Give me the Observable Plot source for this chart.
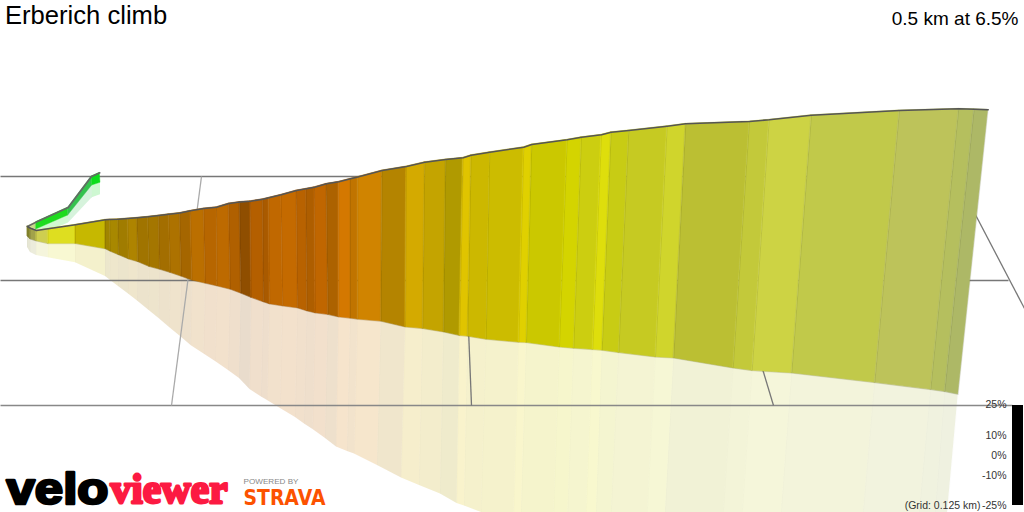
<!DOCTYPE html>
<html>
<head>
<meta charset="utf-8">
<script src="https://cdn.jsdelivr.net/npm/d3@7"></script>
<script src="https://cdn.jsdelivr.net/npm/@observablehq/plot@0.6"></script>
<style>html,body{margin:0;padding:0;background:#fff}svg{display:block}</style>
</head>
<body>
<div id="chart"></div>
<script>
// Wall profile: one entry per strip boundary
const topX = [27,30,36,47.7,75,105,109.3,117.7,127.3,136.7,147.3,158.3,168.3,179.3,190,203.3,216,228.3,239.3,250,262.3,268.3,280.7,296,305.7,314,326,338.3,350,357.3,381.7,406,424.3,445.3,462.7,470.7,489.3,523.3,531.3,566.7,581,601,610.7,628.3,666.7,685.3,749,768.7,811,899,958.3,973.7,987.7];
const topY = [226,227.8,230,228.3,224.3,219.3,219,218.7,218,217.3,216.3,215,213.7,212.5,210.3,208,206.7,203,201.5,200.7,198.7,197.3,194.3,190,188.3,186.7,183.3,181.3,178.3,176.5,170,166,161.7,159,157.3,154.7,151.7,146.7,144,139.3,136.7,134.3,131.7,130,125.7,123.3,121,119.3,114.7,110,108.3,108.7,109.3];
const botX = [27,30,36,47.7,75,105,110,118.3,128.3,137.7,149,159.3,170,181,191.7,205,216.7,230,240.7,251,263.3,269.3,282.3,297.3,306.7,315,327.7,338.3,350,357.3,380.7,405,422.3,443.3,459.3,467.3,485.7,518.3,526,559,573.3,592.3,601.7,618.3,655,673.3,732.7,751.7,791.3,874.3,930.3,944.3,957.7];
const botY = [236,238.8,240.7,243.3,243.3,248.5,251,254.5,258.7,261.5,266.3,269,272.3,276,280,283,285.7,289,293,297.3,301.7,303.7,305.7,307.7,310.7,312.7,314.3,316.7,318,319,321,326.7,328.3,331.7,335.3,336,339,342,342.3,346.7,348,349.3,350,352.3,356.7,357.7,367.7,370.3,372.7,382.3,389.3,391.3,394];
const shadeX = [27,30,36,47.7,75,105,109.5,118,128,137,148,158.5,169,180,190.5,203.5,215,228,239,249.5,261,267,280,295,304,312.5,325,336,347,354,377,401,419,440,456.5,464,481,513.5,521,553.5,567.5,586,596,611,647,665,723,742,781,863,919,935,947];
const shadeY = [247,252,255,257.3,262.3,276,279.5,286,293.5,300.5,309.5,318,327,336,345,353.5,361,370,378,389,396.5,400,408,417,423.5,429,438,446.5,451,453.5,465,477.5,485,493.5,503,505.5,512,512,512,512,512,512,512,512,512,512,512,512,512,512,512,512,512];
const stripColors = ["#80802a","#a2a24a","#cece50","#dede20","#c6b800","#a08500","#a88800","#a07c00","#ae8400","#a07400","#a47600","#a36e00","#ad7200","#a56600","#bb6f00","#b76600","#bd6a00","#b06000","#8f4e00","#b45f00","#a95a00","#c06800","#c46a00","#b86200","#ae5e00","#c06600","#ac6200","#d47800","#c07400","#d08400","#b48400","#d4aa00","#c4a400","#b09a00","#e0c400","#ccb800","#ccbc00","#e0d000","#cbc800","#d4d400","#ccce10","#dede0c","#c8cc14","#c6ca22","#d0d52c","#bbbf33","#c3c93a","#cdd344","#c1c94a","#bdc35a","#b5bf5e","#adb866"];

// The green stretch that runs back behind the start of the climb
const greenTopX = [27,35.7,67.7,91,99.3];
const greenTopY = [226,221.6,207,176,172.3];
const greenBotX = [27,35.7,67.7,91.7,100];
const greenBotY = [226.5,229,215,185,182.3];
const greenShadeX = [27,36,68,91.7,100];
const greenShadeY = [228,236,222.5,197.3,194.3];
const greenColors = ["#c9d98a","#1edb1e","#34c24e","#0cdd1c"];

// Ground grid
const gridX1 = [0,0,0,201,462,704,955];
const gridY1 = [176,280,405,176,176,176,176];
const gridX2 = [955,1008,1012,171,471,773,1024];
const gridY2 = [176,280,405,405,405,405,308];
const gridColors = ["#777","#777","#888","#aaa","#777","#777","#777"];

// Texts
const title = "Erberich climb";
const summary = "0.5 km at 6.5%";
const gradeLabels = ["25%","10%","0%","-10%","-25%"];
const gradeY = [404.5,435,455,475,505];
const gridNote = "(Grid: 0.125 km)";

function strips(tx, ty, bx, by, colors) {
  const rows = [];
  colors.forEach((c, i) => {
    for (const j of [i, i + 1]) rows.push({seg: i, c, x1: tx[j], y1: ty[j], x2: bx[j], y2: by[j]});
  });
  return rows;
}
const idx = topX.map((_, i) => i);
const gridIdx = gridX1.map((_, i) => i);
const wall = strips(topX, topY, botX, botY, stripColors);
const shade = strips(botX, botY, shadeX, shadeY, stripColors);
const green = strips(greenTopX, greenTopY, greenBotX, greenBotY, greenColors);
const greenShade = strips(greenBotX, greenBotY, greenShadeX, greenShadeY, greenColors);
const area = (data, extra) => Plot.area(data, {x1: "x1", y1: "y1", x2: "x2", y2: "y2", z: "seg", fill: "c", ...extra});
const font = "Liberation Sans";

const plot = Plot.plot({
  width: 1024, height: 512,
  margin: 0,
  style: {background: "#fff", overflow: "hidden"},
  x: {domain: [0, 1024], range: [0, 1024], axis: null},
  y: {domain: [0, 512], range: [0, 512], axis: null},
  color: {type: "identity"},
  marks: [
    area(greenShade, {fillOpacity: 0.2}),
    area(shade, {fillOpacity: 0.2}),
    Plot.link(idx, {x1: i => botX[i], y1: i => botY[i], x2: i => shadeX[i], y2: i => shadeY[i], stroke: "#000", strokeOpacity: 0.012, strokeWidth: 1}),
    Plot.link(gridIdx, {x1: i => gridX1[i], y1: i => gridY1[i], x2: i => gridX2[i], y2: i => gridY2[i], stroke: i => gridColors[i], strokeWidth: 1.3}),
    area(green, {stroke: "c", strokeWidth: 0.4}),
    Plot.line(greenTopX, {x: d => d, y: (d, i) => greenTopY[i], stroke: "#666", strokeWidth: 1.6}),
    area(wall, {stroke: "c", strokeWidth: 0.5}),
    Plot.link(idx.slice(1), {x1: i => topX[i], y1: i => topY[i], x2: i => botX[i], y2: i => botY[i], stroke: "#000", strokeOpacity: 0.08, strokeWidth: 1}),
    Plot.line(idx, {x: i => botX[i], y: i => botY[i], stroke: "#000", strokeOpacity: 0.1, strokeWidth: 1}),
    Plot.line(idx, {x: i => topX[i], y: i => topY[i], stroke: "#555", strokeWidth: 1.6}),
    Plot.text([title], {x: 4.5, y: 15, text: d => d, textAnchor: "start", fontFamily: font, fontSize: 25.6, fill: "#000"}),
    Plot.text([summary], {x: 1018, y: 18, text: d => d, textAnchor: "end", fontFamily: font, fontSize: 19, fill: "#000"}),
    Plot.rect([0], {x1: 1012, x2: 1023, y1: 405, y2: 505, fill: "#000"}),
    Plot.text(gradeLabels, {x: 1006, y: (d, i) => gradeY[i], text: d => d, textAnchor: "end", fontFamily: font, fontSize: 10.5, fill: "#333"}),
    Plot.text([gridNote], {x: 980, y: 505, text: d => d, textAnchor: "end", fontFamily: font, fontSize: 10.5, fill: "#333"}),
    Plot.text(["velo"], {x: 6, y: 489.5, text: d => d, textAnchor: "start", fontFamily: font, fontWeight: 700, fontSize: 44, fill: "#000", stroke: "#000", strokeWidth: 2.6, className: "logo-velo"}),
    Plot.text(["viewer"], {x: 110, y: 488.5, text: d => d, textAnchor: "start", fontFamily: "Liberation Sans Narrow", fontWeight: 700, fontSize: 43, fill: "#fc1a42", stroke: "#fc1a42", strokeWidth: 2.8, className: "logo-viewer"}),
    Plot.text(["POWERED BY"], {x: 243, y: 480.5, text: d => d, textAnchor: "start", fontFamily: font, fontSize: 8, fill: "#888", className: "logo-powered"}),
    Plot.text(["STRAVA"], {x: 243, y: 498, text: d => d, textAnchor: "start", fontFamily: "DejaVu Sans", fontWeight: 700, fontSize: 21, fill: "#fc5200", className: "logo-strava"})
  ]
});
for (const [name, len] of [["logo-velo", 102], ["logo-viewer", 117], ["logo-powered", 55], ["logo-strava", 82]]) {
  plot.querySelectorAll("." + name + " text").forEach(t => {
    t.setAttribute("textLength", len);
    t.setAttribute("lengthAdjust", "spacingAndGlyphs");
  });
}
document.getElementById("chart").append(plot);
</script>
</body>
</html>
